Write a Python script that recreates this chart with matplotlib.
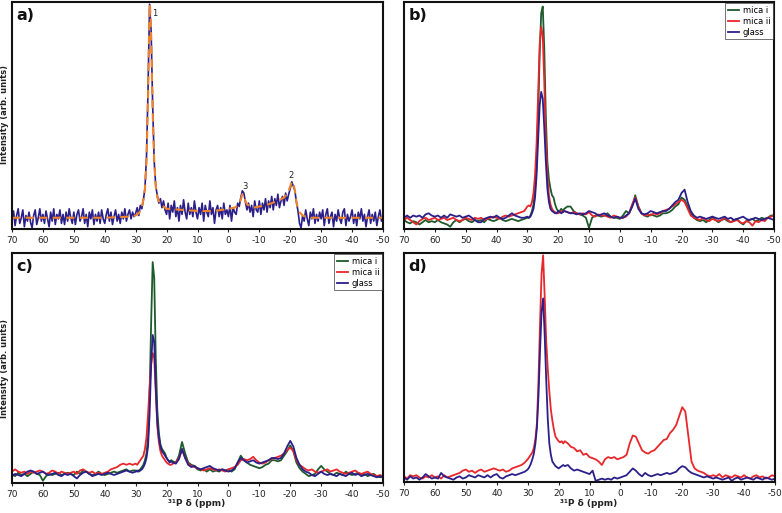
import numpy as np
import matplotlib
matplotlib.use("Agg")
import matplotlib.pyplot as plt

plt.rcParams['font.family'] = ['DejaVu Sans']

# ---------------- data ----------------
TICKS = [70, 60, 50, 40, 30, 20, 10, 0, -10, -20, -30, -40, -50]

# panel a: 0.5 ppm grid, 70 -> -50
PPM_A = np.linspace(70, -50, 241)
A_DATA = [
    4, 8, 1.5, 6, 9, 2.5, 5, 8.5, 1, 6, 3.5, 7.5, 3, 0.5, 6, 8.5, 2, 5, 9, 3.5,
    6.5, 2.5, 8, 4.5, 1, 7.5, 3.5, 9, 2, 6.5, 4.5, 8.5, 2.5, 6.5, 2, 7.5, 3.5, 9, 5, 2.5,
    7.5, 2, 6.5, 8.5, 3.5, 5.5, 9, 2.5, 6.5, 1, 7.5, 4.5, 8.5, 2, 6.5, 3.5, 7.5, 2.5, 8.5, 4.5,
    2.5, 6.5, 9, 3.5, 7.5, 2, 5.5, 8.5, 3.5, 6.5, 2.5, 7.5, 4.5, 9, 3.5, 6.5, 8.5, 4.5, 7.5, 5.5,
    7, 9.5, 6, 10.5, 9, 13, 18, 32, 62, 100, 88, 55, 30, 19, 15, 11.5, 13.5, 9.5, 12.5, 8.5,
    6.5, 11.5, 4.5, 10.5, 7.5, 12.5, 5.5, 9.5, 3.5, 10.5, 6.5, 13, 7.5, 4.5, 11.5, 6.5, 9.5, 5.5, 12.5, 7.5,
    4.5, 9.5, 6.5, 11.5, 3.5, 10.5, 7.5, 5.5, 12.5, 6.5, 9.5, 2.5, 8.5, 10.5, 5.5, 9.5, 4.5, 11.5, 6.5, 8.5,
    5.5, 10.5, 3.5, 9.5, 7.5, 6.5, 11.5, 10, 14, 17, 16, 12, 8.5, 11.5, 7.5, 10.5, 5.5, 12.5, 8.5, 7.5,
    12.5, 6.5, 11.5, 8.5, 13.5, 7.5, 12.5, 9.5, 14.5, 8.5, 13.5, 10.5, 15.5, 9.5, 12.5, 14.5, 10.5, 16, 12.5, 15.5,
    18, 21, 19, 17, 12, 8, 2.5, 0.5, 6, 3.5, 8.5, 4.5, 1.5, 7.5, 4.5, 9, 2.5, 6.5, 3.5, 7.5,
    4.5, 8.5, 1.5, 6.5, 9, 2.5, 5.5, 7.5, 1, 6.5, 3.5, 8.5, 4.5, 2.5, 7.5, 9, 1.5, 6.5, 3.5, 5.5,
    8.5, 2.5, 6.5, 1.5, 7.5, 4.5, 9, 3.5, 6.5, 1, 5.5, 8.5, 2.5, 6.5, 3.5, 7.5, 1.5, 5.5, 8.5, 3.5,
    5,
]
A_FIT_X = [70, 40, 32, 30, 29, 28.5, 28, 27.5, 27, 26.5, 26, 25.7, 25.4, 25.1, 24.8,
           24.5, 24, 23.5, 23, 22, 21, 20, 15, 10, 5, 2, 0, -2, -3, -4,
           -4.5, -5, -5.5, -6, -7, -8, -10, -12, -14, -16, -18, -19, -19.5, -20, -20.5,
           -21, -21.5, -22, -22.5, -23, -24, -25, -27, -30, -50]
A_FIT_Y = [5, 5, 5.5, 6, 7, 8, 10, 13, 18, 30, 58, 85, 100, 92, 72,
           52, 30, 19, 14, 11, 10, 9, 8.5, 8, 8, 8.5, 9, 9.5, 10.5, 13,
           15.5, 15, 12.5, 11, 10, 9.5, 10, 10.5, 11.5, 12.5, 14, 15.5, 17, 19, 21,
           20.5, 17, 12, 9, 7.5, 6, 5.5, 5, 5, 5]
A_PEAK_LABELS = ['1', '3', '2']
A_PEAK_X = [23.7, -5.2, -20.4]
A_PEAK_Y = [96, 19, 24]

# panels b-d: 1 ppm grid, 0.5 ppm between 30 and 18
PPM = np.r_[np.arange(70, 30, -1), np.arange(30, 17.75, -0.5), np.arange(17, -51, -1)]

B_MICA_I = [
    4, 3, 2.5, 3.5, 3, 2, 3, 4, 3, 3.5, 3, 4, 3, 2.5, 2, 1, 3, 4, 3, 4,
    4.5, 3.5, 3, 4, 3.5, 4, 3, 4.5, 4, 3.5, 4, 5, 4, 3.5, 4, 4.5, 4, 3.5, 4, 4.5,
    5, 5, 6, 8, 11, 17, 28, 50, 78, 96, 99, 80, 50, 30, 22, 18, 15, 14, 11, 9, 8, 8, 9, 8, 9,
    10, 10, 8, 7, 6.5, 6, 5, 0.5, 5, 6, 6, 5.5, 6, 7, 5.5, 5, 5, 4.5,
    6, 8, 7, 10, 15, 10, 7, 6, 5.5, 6.5, 6, 5.5, 6, 7, 7, 7.5, 8.5, 10, 11, 14,
    13, 10, 7, 5, 4, 3.5, 4, 3, 4, 5.5, 4, 3, 4, 4.5, 3.5, 3, 4, 4.5, 3, 2,
    3.5, 4, 4.5, 3.5, 4, 5, 4.5, 5, 6, 6,
]
B_MICA_II = [
    4, 5, 4, 3, 2, 3.5, 4.5, 5, 4, 4.5, 5, 4, 4.5, 5, 4, 4.5, 5, 4, 3.5, 4,
    5, 4.5, 4, 5, 4.5, 5, 4, 4.5, 5, 5.5, 5, 4.5, 5.5, 6, 5.5, 6, 6.5, 7, 7.5, 8,
    10, 10.5, 10, 12, 16, 24, 38, 60, 82, 90, 86, 65, 40, 24, 15, 11, 9, 8, 7.5, 7, 7, 7.5, 8, 7.5, 8,
    7.5, 7, 7.5, 7, 6.5, 7, 6.5, 7.5, 6, 5.5, 6.5, 6, 6, 5.5, 5, 6, 5.5, 5,
    5, 5.5, 7, 11, 14, 10, 7, 6, 6.5, 6, 7, 6.5, 7, 8, 8.5, 9, 10, 11, 12, 13,
    12, 9, 6, 5, 4.5, 4, 5, 4, 3.5, 4.5, 4, 3.5, 4, 5, 4, 3, 3.5, 4, 3, 2.5,
    3.5, 3, 1.5, 3.5, 3, 4, 3.5, 5, 5.5, 6,
]
B_GLASS = [
    5, 6, 5, 6, 5.5, 6, 5, 6.5, 7, 6, 5.5, 6, 5, 6, 5, 6.5, 6, 5.5, 6, 5,
    5.5, 6, 5, 4, 3, 3, 4.5, 5, 5.5, 5, 6, 5, 4.5, 5, 6, 7, 6, 5.5, 5, 5,
    5.5, 5, 5.5, 7, 9, 14, 24, 40, 55, 61, 58, 45, 30, 18, 12, 9, 8, 7.5, 7, 7, 8, 7.5, 7, 7.5, 8,
    7.5, 7, 7, 6.5, 7, 6.5, 7, 8, 7.5, 7, 6, 6.5, 7, 6, 5.5, 5, 5.5, 5,
    5, 6, 7, 10, 13.5, 9, 7, 6.5, 7, 8, 7.5, 7, 7.5, 8, 8, 9, 10.5, 12, 13, 16,
    17.5, 12, 8, 6, 5, 5.5, 5, 4.5, 5, 5.5, 5, 4.5, 5, 5.5, 4.5, 5, 4, 4.5, 5, 5.5,
    4.5, 4, 4.5, 5, 4.5, 4, 4.5, 5, 4.5, 4,
]

C_MICA_I = [
    4, 3, 4.5, 3.5, 4, 3, 4, 5, 4, 3.5, 1, 3, 4, 3.5, 4, 4.5, 3.5, 4, 4.5, 4,
    3.5, 5, 4, 5.5, 5, 4, 3.5, 4, 5, 4, 3.5, 4, 4.5, 5, 4.5, 5, 5.5, 6, 5, 5.5,
    5.5, 5, 5.5, 6, 7, 8, 10, 13, 20, 38, 70, 97, 90, 55, 32, 22, 17, 15, 14, 13, 11, 10, 9.5, 10, 9.5,
    9, 12, 18, 13, 9, 8, 7.5, 6, 5.5, 6, 5, 6, 5, 5.5, 5, 6, 5.5, 6,
    5, 6, 9, 12, 10, 9, 8, 7.5, 7, 6.5, 7, 8, 8.5, 10, 10, 9.5, 10, 12, 14, 16.5,
    14, 9, 6.5, 5, 4, 3, 3.5, 4, 6, 7.5, 6, 5, 4, 3.5, 4.5, 4, 3.5, 5, 4, 3.5,
    4, 4.5, 3.5, 4, 3, 3.5, 4, 3, 2.5, 3,
]
C_MICA_II = [
    5, 6, 5, 4.5, 5, 4, 5, 4.5, 5, 5.5, 5, 4, 4.5, 5.5, 5, 4, 5, 4.5, 4, 4.5,
    5, 4, 5.5, 6, 5, 4.5, 5, 4, 4.5, 4, 4.5, 5, 6, 6.5, 7, 8, 8.5, 8, 8.5, 8,
    8.5, 8, 9, 10, 11, 12, 15, 20, 30, 42, 52, 57, 55, 40, 25, 18, 14, 12, 11, 10, 9, 8.5, 8, 8, 8.5,
    9, 11, 14.5, 11, 8.5, 7.5, 7, 6.5, 6, 5.5, 6, 6.5, 6, 5.5, 6, 5.5, 5, 6,
    6.5, 7, 8, 10, 10.5, 10, 10.5, 11.5, 10, 9, 8.5, 9, 10, 10.5, 11, 11.5, 12, 13, 14.5, 15.5,
    14, 10, 8, 7, 6, 5.5, 6, 5, 4.5, 5, 5.5, 6, 5, 5.5, 6, 5, 4.5, 4, 4.5, 5,
    5.5, 4.5, 4, 4.5, 5, 4, 3.5, 3, 3.5, 3,
]
C_GLASS = [
    3, 4, 3.5, 3, 4, 5, 5.5, 5, 4, 4.5, 5, 4, 3.5, 4, 4.5, 3.5, 3, 4, 3.5, 4,
    3, 2, 3.5, 4.5, 5, 4, 3, 3.5, 4, 3.5, 4, 4.5, 4, 3.5, 4, 4.5, 5, 5.5, 5, 4.5,
    5, 5.5, 5, 5.5, 6, 7, 8.5, 11, 16, 30, 52, 65, 62, 42, 27, 20, 16, 14, 13, 12, 11, 10, 9, 9.5, 9,
    8.5, 10.5, 15, 11, 8, 7, 7.5, 6.5, 6, 6.5, 7, 7.5, 6.5, 6, 5.5, 6, 5.5, 5,
    5.5, 6.5, 9, 11, 10, 9, 9.5, 10, 9, 8.5, 9, 9.5, 10, 11, 11, 10.5, 11, 13, 16, 18.5,
    16, 11, 8, 6, 5, 4.5, 3.5, 3, 4, 5, 4, 3.5, 4, 3.5, 3, 4, 3.5, 3, 4, 4.5,
    3.5, 4, 3, 3.5, 4, 3.5, 3, 2.5, 3, 2.5,
]

D_MICA_II = [
    2.5, 1.5, 3, 2.5, 3, 2, 1.5, 2.5, 2, 3, 2, 2.5, 1.5, 3, 2, 2.5, 3, 3.5, 4, 5,
    5.5, 4.5, 5, 4, 5, 5.5, 4.5, 5, 5.5, 6, 5.5, 5, 5.5, 4.5, 5, 6, 6.5, 7, 7.5, 8.5,
    10, 11, 12, 13, 15, 19, 26, 45, 70, 92, 100, 82, 62, 50, 40, 32, 27, 23, 20, 19, 18, 17.5, 18, 17, 18,
    17, 15.5, 15, 13.5, 14, 12, 12.5, 11, 10.5, 10, 9, 7.5, 10, 11, 10.5, 11, 10, 10.5,
    11, 12, 17, 20.5, 20, 17, 14, 13, 12.5, 13.5, 14, 15.5, 17, 18.5, 19, 21.5, 23, 25, 29, 33,
    31, 20, 9, 6, 5, 4.5, 4, 3, 2.5, 3, 2.5, 3.5, 2, 3, 2.5, 2, 3, 2.5, 2, 3,
    2, 1.5, 2.5, 3, 2, 2.5, 1.5, 2, 3, 2.5,
]
D_GLASS = [
    2, 1, 2.5, 1.5, 2, 1, 2, 3.5, 2.5, 1.5, 2, 1.5, 4, 2.5, 2, 1.5, 1, 2, 2.5, 1.5,
    2, 3, 2.5, 2, 3, 2.5, 2, 3, 2, 3, 3.5, 2, 1.5, 2.5, 3, 3.5, 3, 3.5, 4, 4.5,
    5.5, 6.5, 8, 10, 12.5, 17, 24, 38, 58, 75, 81, 65, 45, 28, 17, 12, 9, 8, 7, 6.5, 6, 6.5, 7, 7.5, 7,
    7.5, 6, 5, 5.5, 5, 4.5, 4, 3.5, 5, 0.5, 1, 1.5, 1, 1.5, 1, 2, 1.5, 2,
    2.5, 3, 4.5, 6, 5, 3.5, 2.5, 4, 3, 2.5, 3, 3.5, 3, 3.5, 4, 3.5, 4, 4.5, 6, 7,
    6.5, 5, 4, 3.5, 3, 2.5, 2, 2.5, 2, 1.5, 2, 1.5, 1, 1.5, 2, 0.5, 1.5, 2, 1, 1.5,
    2, 1.5, 1, 2, 1.5, 1, 2, 1.5, 1, 1.5,
]

SERIES_NAMES = ['mica i', 'mica ii', 'glass']
C_BLUE = '#2b1f8a'
C_GREEN = '#1d5a2c'
C_RED = '#e8272b'
C_ORANGE = '#f0822a'

# ---------------- figure ----------------
W, H = 782, 513
fig = plt.figure(figsize=(W / 100, H / 100), dpi=100)

def box(l, t, r, b):
    return [l / W, 1 - b / H, (r - l) / W, (b - t) / H]

axA = fig.add_axes(box(12, 2, 383, 229))
axB = fig.add_axes(box(404, 2, 774, 229))
axC = fig.add_axes(box(12, 253, 383, 483))
axD = fig.add_axes(box(404, 253, 775, 482))

for ax, lab in zip([axA, axB, axC, axD], ['a)', 'b)', 'c)', 'd)']):
    ax.set_xlim(70, -50)
    ax.set_ylim(0, 101)
    ax.set_xticks(TICKS)
    ax.set_xticklabels([str(t) for t in TICKS])
    ax.set_yticks([])
    ax.tick_params(axis='x', direction='out', length=2.5, width=0.8, pad=2.5,
                   labelsize=6.5, colors='#222222')
    for s in ax.spines.values():
        s.set_linewidth(1.5)
        s.set_color('#111111')
    ax.text(0.012, 0.975, lab, transform=ax.transAxes, ha='left', va='top',
            fontsize=11.5, fontweight='bold', color='#111111')

LW = 1.3

# panel a
axA.plot(PPM_A, A_DATA, color=C_BLUE, lw=1.2)
axA.plot(A_FIT_X, A_FIT_Y, color=C_ORANGE, lw=1.5, dashes=(4, 2.5))
for t, x, y in zip(A_PEAK_LABELS, A_PEAK_X, A_PEAK_Y):
    axA.text(x, y, t, fontsize=6, ha='center', va='center', color='#222222')

# panel b
axB.plot(PPM, B_MICA_I, color=C_GREEN, lw=LW, label=SERIES_NAMES[0])
axB.plot(PPM, B_MICA_II, color=C_RED, lw=LW, label=SERIES_NAMES[1])
axB.plot(PPM, B_GLASS, color=C_BLUE, lw=LW, label=SERIES_NAMES[2])

# panel c
axC.plot(PPM, C_MICA_I, color=C_GREEN, lw=LW, label=SERIES_NAMES[0])
axC.plot(PPM, C_MICA_II, color=C_RED, lw=LW, label=SERIES_NAMES[1])
axC.plot(PPM, C_GLASS, color=C_BLUE, lw=LW, label=SERIES_NAMES[2])

# panel d
axD.plot(PPM, D_MICA_II, color=C_RED, lw=LW)
axD.plot(PPM, D_GLASS, color=C_BLUE, lw=LW)

for ax in (axB, axC):
    leg = ax.legend(loc='upper right', fontsize=6, frameon=True, fancybox=False,
                    borderaxespad=0.15, handlelength=1.4, handletextpad=0.4,
                    borderpad=0.3, labelspacing=0.25)
    leg.get_frame().set_edgecolor('#333333')
    leg.get_frame().set_linewidth(0.6)

# axis labels
for y in (115, 368):
    fig.text(5 / W, 1 - y / H, 'Intensity (arb. units)', rotation=90,
             ha='center', va='center', fontsize=6, fontweight='bold', color='#222222')
for x in (197, 589):
    fig.text(x / W, 1 - 503 / H, '³¹P δ (ppm)', ha='center', va='center',
             fontsize=6.5, fontweight='bold', color='#222222')

fig.savefig('out.png', dpi=100)
